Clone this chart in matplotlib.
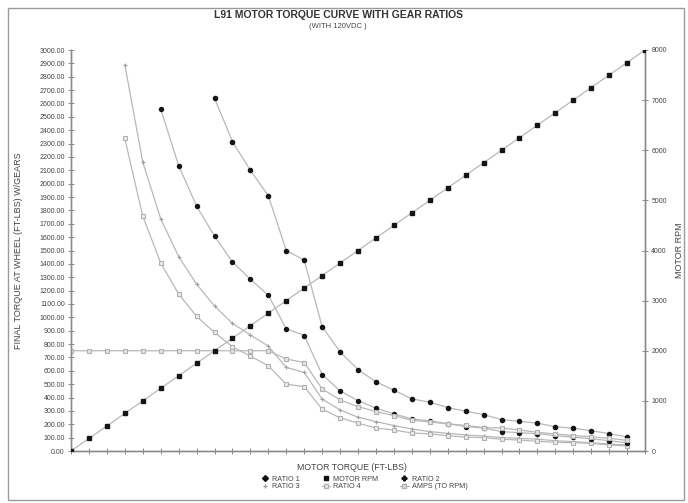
import matplotlib
matplotlib.use("Agg")
import matplotlib.pyplot as plt
from matplotlib.lines import Line2D
from matplotlib.patches import Rectangle

plt.rcParams['font.family'] = ['Liberation Sans', 'DejaVu Sans']

# ---- data (category index along x) ----
rpm_idx = list(range(0, 33))
motor_rpm = [0, 250, 500, 750, 1000, 1250, 1500, 1750, 2000, 2250, 2500, 2750,
             3000, 3250, 3500, 3750, 4000, 4250, 4500, 4750, 5000, 5250, 5500,
             5750, 6000, 6250, 6500, 6750, 7000, 7250, 7500, 7750, 8000]

ratio1_idx = list(range(8, 32))
ratio1 = [2640, 2315, 2100, 1910, 1500, 1428, 930, 742, 608, 518, 455, 390,
          365, 325, 298, 272, 235, 222, 208, 182, 170, 152, 130, 105]

ratio2_idx = list(range(5, 32))
ratio2 = [2560, 2135, 1833, 1607, 1415, 1285, 1165, 915, 864, 572, 450, 377,
          320, 278, 240, 225, 205, 182, 172, 145, 137, 130, 115, 103, 92, 77, 62]

ratio3_idx = list(range(3, 32))
ratio3 = [2890, 2162, 1738, 1455, 1248, 1085, 955, 868, 785, 625, 588, 388,
          307, 253, 220, 190, 165, 145, 132, 120, 112, 100, 95, 88, 77, 70, 62,
          52, 45]

ratio4_idx = list(range(3, 32))
ratio4 = [2338, 1757, 1407, 1175, 1007, 887, 780, 710, 637, 500, 482, 313,
          248, 208, 172, 157, 135, 128, 115, 103, 100, 88, 82, 72, 65, 62, 57,
          45, 38]

amps_idx = list(range(0, 32))
amps_rpm = [2000, 2000, 2000, 2000, 2000, 2000, 2000, 2000, 2000, 2000, 2000,
            2000, 1835, 1765, 1240, 1019, 885, 787, 707, 613, 581, 539, 512,
            467, 459, 419, 373, 341, 307, 285, 253, 213]

left_ticks = list(range(0, 3001, 100))
right_ticks = list(range(0, 8001, 1000))

# ---- figure ----
fig = plt.figure(figsize=(6.88, 5.03), dpi=100)
ax = fig.add_axes([71/688, 1-451/503, (645-71)/688, (451-50)/503])
ax2 = ax.twinx()

line_c = '#b8b8b8'
lw = 0.9

ax.plot(ratio1_idx, ratio1, color=line_c, lw=lw, marker='o', ms=3.0,
        mfc='#151515', mec='#151515', zorder=3)
ax.plot(ratio2_idx, ratio2, color=line_c, lw=lw, marker='o', ms=2.9,
        mfc='#151515', mec='#151515', zorder=3)
ax.plot(ratio3_idx, ratio3, color=line_c, lw=lw, marker='+', ms=3.2,
        mec='#a0a0a0', mew=0.8, zorder=2)
ax.plot(ratio4_idx, ratio4, color=line_c, lw=lw, marker='s', ms=3.0,
        mfc='#ececec', mec='#b0b0b0', mew=0.8, zorder=2)
ax2.plot(amps_idx, amps_rpm, color=line_c, lw=lw, marker='s', ms=3.0,
         mfc='#e4e4e4', mec='#b0b0b0', mew=0.8, zorder=2)
ax2.plot(rpm_idx, motor_rpm, color=line_c, lw=lw, marker='s', ms=2.9,
         mfc='#151515', mec='#151515', zorder=3)

ax.set_xlim(0, 32)
ax.set_ylim(0, 3000)
ax2.set_ylim(0, 8000)

ax.set_xticks(range(0, 33))
ax.set_xticklabels([])
ax.set_yticks(left_ticks)
ax.set_yticklabels([f"{v:.2f}" for v in left_ticks])
ax2.set_yticks(right_ticks)
ax2.set_yticklabels([str(v) for v in right_ticks])

spine_c = '#8a8a8a'
for a in (ax, ax2):
    a.spines['top'].set_visible(False)
    for s in ('left', 'right', 'bottom'):
        a.spines[s].set_color(spine_c)
        a.spines[s].set_linewidth(1.0)
ax.tick_params(axis='y', direction='inout', length=5, width=0.7, colors=spine_c,
               labelsize=5, labelcolor='#444444', pad=2)
ax.tick_params(axis='x', direction='inout', length=5, width=0.7, colors=spine_c)
ax2.tick_params(axis='y', direction='inout', length=5, width=0.7, colors=spine_c,
                labelsize=5, labelcolor='#444444', pad=2)

ax.set_ylabel("FINAL TORQUE AT WHEEL (FT-LBS) W/GEARS", fontsize=6.5,
              color='#444444', labelpad=12)
ax2.set_ylabel("MOTOR RPM", fontsize=6.5, color='#444444', labelpad=14)
ax.yaxis.set_label_coords(-0.083, 0.5)
ax2.yaxis.set_label_coords(1.052, 0.5)

fig.text(338/688, 1-15/503, "L91 MOTOR TORQUE CURVE WITH GEAR RATIOS",
         ha='center', va='center', fontsize=7.5, fontweight='bold', color='#333333')
fig.text(338/688, 1-27/503, "(WITH 120VDC )", ha='center', va='center',
         fontsize=5.5, color='#444444')
fig.text(352/688, 1-468/503, "MOTOR TORQUE (FT-LBS)", ha='center', va='center',
         fontsize=6.3, color='#444444')

h_r1 = Line2D([], [], color='#111111', marker='D', ms=3, lw=0)
h_rpm = Line2D([], [], color='#111111', marker='s', ms=3.2, lw=0)
h_r2 = Line2D([], [], color='#111111', marker='P', ms=3.4, lw=0)
h_r3 = Line2D([], [], color='#a0a0a0', marker='+', ms=3.4, lw=0)
h_r4 = Line2D([], [], color=line_c, marker='s', ms=3, mfc='#e8e8e8', mec='#b0b0b0', lw=0.8)
h_a = Line2D([], [], color=line_c, marker='s', ms=3, mfc='#e0e0e0', mec='#b0b0b0', lw=0.8)
leg = fig.legend([h_r1, h_r3, h_rpm, h_r4, h_r2, h_a],
                 ["RATIO 1", "RATIO 3", "MOTOR RPM", "RATIO 4", "RATIO 2", "AMPS (TO RPM)"],
                 ncol=3, loc='center', bbox_to_anchor=(364/688, 1-483/503),
                 frameon=False, fontsize=5.2, handlelength=1.2, handletextpad=0.4,
                 columnspacing=3.0, labelspacing=0.05, borderpad=0.1)
for t in leg.get_texts():
    t.set_color('#444444')

fig.patches.append(Rectangle((8/688, 1-500/503), (684-8)/688, (500-8)/503,
                             transform=fig.transFigure, fill=False,
                             edgecolor='#9a9a9a', lw=1.0))

fig.savefig("out.png", dpi=100)
